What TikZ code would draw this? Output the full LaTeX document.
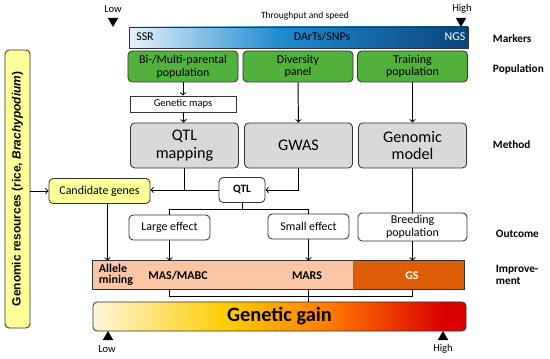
\documentclass[tikz,border=0pt]{standalone}
\usepackage{fontspec}
\setmainfont{Carlito}
\newfontfamily\arialfont{Liberation Sans}
\usepackage{xcolor}
\usetikzlibrary{shapes, arrows, positioning}

\definecolor{popgreen}{RGB}{82,176,60}
\definecolor{methgray}{RGB}{217,217,217}
\definecolor{resyellow}{RGB}{255,255,153}
\definecolor{impsalmon}{RGB}{251,198,166}
\definecolor{gsorange}{RGB}{222,94,8}
\definecolor{mkLight}{RGB}{232,242,251}
\definecolor{mkMid}{RGB}{32,140,208}
\definecolor{mkDark}{RGB}{10,68,122}
\definecolor{gnCream}{RGB}{255,246,218}
\definecolor{gnYellow}{RGB}{255,205,0}
\definecolor{gnOrange}{RGB}{255,120,0}
\definecolor{gnRed}{RGB}{218,0,0}

\pgfdeclarehorizontalshading{markershade}{100bp}{color(0bp)=(mkLight); color(25bp)=(mkLight); color(47bp)=(mkMid); color(75bp)=(mkDark); color(100bp)=(mkDark)}
\pgfdeclarehorizontalshading{gainshade}{100bp}{color(0bp)=(gnCream); color(25bp)=(gnCream); color(43bp)=(gnYellow); color(57bp)=(gnOrange); color(72bp)=(gnRed); color(100bp)=(gnRed)}

\begin{document}
\begin{tikzpicture}[
  x=0.025cm, y=-0.025cm,
  every node/.style={font=\fontsize{8.5}{9}\selectfont},
  rbox/.style={rectangle, rounded corners=3pt, draw=black!80, line width=0.6pt, align=center, inner sep=1pt},
  popbox/.style={rbox, fill=popgreen, minimum width=2.75cm, minimum height=0.775cm},
  methbox/.style={rbox, fill=methgray, minimum width=2.7cm, minimum height=1.125cm, font=\fontsize{11.5}{12.5}\selectfont},
  outbox/.style={rbox, fill=white, minimum height=0.625cm},
  sidelabel/.style={anchor=west, align=left, font=\bfseries\fontsize{8}{9}\selectfont},
  tri/.style={regular polygon, regular polygon sides=3, fill=black, inner sep=0pt, minimum size=0.3cm},
  arrow/.style={->, line width=0.7pt},
  link/.style={line width=0.7pt}
]
\useasboundingbox (0,0) rectangle (550,359);

% markers
\node[font=\fontsize{7.5}{8}\selectfont] (lowtop) at (113,9) {Low};
\node[tri, shape border rotate=180] (lowtoptri) at (113,21) {};
\node[font=\fontsize{7.5}{8}\selectfont] (hightop) at (462,9) {High};
\node[tri, shape border rotate=180] (hightoptri) at (461,21) {};
\node[font=\fontsize{6.8}{7}\selectfont] (speed) at (305,16) {Throughput and speed};
\node[rectangle, draw=black!80, line width=0.6pt, shading=markershade, minimum width=8.475cm, minimum height=0.525cm] (markers) at (298.5,37.5) {};
\node (ssr) at (145,37) {SSR};
\node (snps) at (322,37) {DArTs/SNPs};
\node[text=white] (ngs) at (455,37) {NGS};

% populations
\node[popbox] (bipar) at (183,66.5) {Bi-/Multi-parental\\population};
\node[popbox] (diversity) at (298,66.5) {Diversity\\panel};
\node[popbox] (training) at (412.5,66.5) {Training\\population};
\node[rectangle, draw=black!80, line width=0.6pt, fill=white, minimum width=2.65cm, minimum height=0.4cm, inner sep=0pt, font=\fontsize{7.5}{8}\selectfont] (genmaps) at (183,104) {Genetic maps};

% methods
\node[methbox] (qtlmap) at (184.5,145.5) {QTL\\mapping};
\node[methbox] (gwas) at (298.5,145.5) {GWAS};
\node[methbox] (genmodel) at (412.5,145.5) {Genomic\\model};

% outcomes
\node[rbox, fill=resyellow, minimum width=2.525cm, minimum height=0.625cm] (candidate) at (99.5,191) {Candidate genes};
\node[outbox, minimum width=1.15cm, font=\bfseries\fontsize{8}{9}\selectfont] (qtl) at (242,190) {QTL};
\node[outbox, minimum width=2.025cm] (large) at (169.5,227.5) {Large effect};
\node[outbox, minimum width=2.025cm] (small) at (308.5,226.5) {Small effect};
\node[outbox, minimum width=2.725cm, minimum height=0.7cm] (breeding) at (412.5,227) {Breeding\\population};

% improvement
\node[rectangle, fill=impsalmon, minimum width=9.275cm, minimum height=0.7cm, inner sep=0pt] (improve) at (278.5,275) {};
\node[rectangle, fill=gsorange, minimum width=2.775cm, minimum height=0.7cm, inner sep=0pt] (gszone) at (408.5,275) {};
\draw[line width=0.6pt, draw=black!80] (improve.north west) rectangle (improve.south east);
\node[anchor=west, align=left, font=\bfseries\fontsize{8.5}{7.5}\selectfont] (allele) at (94,275) {Allele\\mining};
\node[font=\bfseries\fontsize{8.5}{9}\selectfont] (mabc) at (178,276) {MAS/MABC};
\node[font=\bfseries\fontsize{8.5}{9}\selectfont] (mars) at (307,276) {MARS};
\node[font=\bfseries\fontsize{8.5}{9}\selectfont, text=white] (gs) at (412,276) {GS};

% genetic gain
\node[rbox, shading=gainshade, minimum width=9.325cm, minimum height=0.725cm, font=\bfseries\fontsize{14.5}{15}\selectfont] (gain) at (279.5,316.5) {Genetic gain};
\node[tri] (lowbottri) at (108,337) {};
\node[font=\fontsize{7.5}{8}\selectfont] (lowbot) at (107,349) {Low};
\node[tri] (highbottri) at (443,337) {};
\node[font=\fontsize{7.5}{8}\selectfont] (highbot) at (443,349) {High};

% genomic resources
\node[rbox, fill=resyellow, rotate=90, minimum width=6.95cm, minimum height=0.625cm, font=\arialfont\bfseries\fontsize{8.5}{9}\selectfont] (resources) at (17.5,189) {Genomic resources (rice, \textit{Brachypodium})};

% row labels
\node[sidelabel] (lmarkers) at (488,39) {Markers};
\node[sidelabel] (lpop) at (488,69) {Population};
\node[sidelabel] (lmethod) at (488,145) {Method};
\node[sidelabel] (loutcome) at (491,234) {Outcome};
\node[sidelabel] (limprove) at (491,275) {Improve-\\ment};

% connectors
\draw[arrow] (bipar) -- (genmaps);
\draw[arrow] (genmaps) -- (qtlmap);
\draw[arrow] (diversity) -- (gwas);
\draw[arrow] (training) -- (genmodel);
\draw[link] (qtlmap.south) -- (qtlmap.south |- qtl.west);
\draw[arrow] (qtl.west) -- (qtl.west -| candidate.east);
\draw[arrow] (gwas.south) |- (qtl.east);
\draw[link] (qtl.south) -- ++(0,7) coordinate (qtlfork);
\draw[link] (large.north) |- (qtlfork) -| (small.north);
\draw[link] (genmodel) -- (breeding);
\draw[arrow] (resources.south |- candidate.west) -- (candidate.west);
\draw[arrow] ([xshift=0.2cm]candidate.south) -- ([xshift=0.2cm]candidate.south |- improve.north);
\draw[arrow] (large.south) -- (large.south |- improve.north);
\draw[arrow] (small.south) -- (small.south |- improve.north);
\draw[arrow] (breeding.south) -- (breeding.south |- improve.north);
\draw[link] (large.south |- improve.south) -- ++(0,7) coordinate (gainfork) -| (breeding.south |- improve.south);
\draw[link] (small.south |- improve.south) -- (small.south |- gain.north);

\end{tikzpicture}
\end{document}
